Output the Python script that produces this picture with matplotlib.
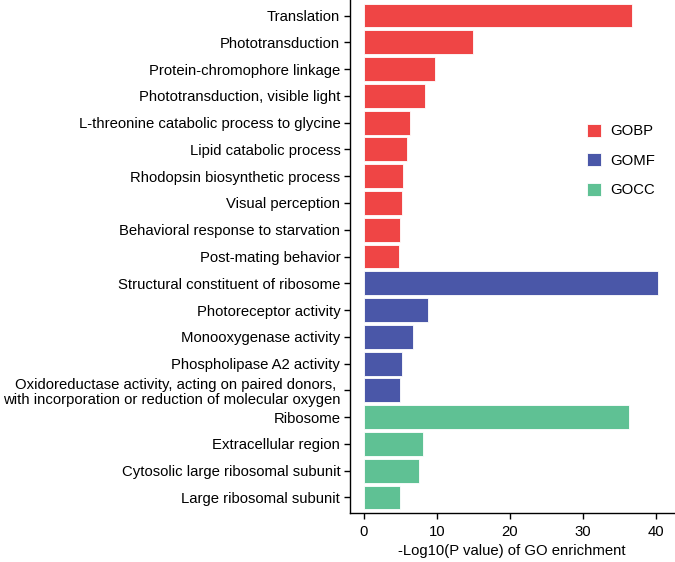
import matplotlib
matplotlib.use("Agg")
import matplotlib.pyplot as plt
from matplotlib.patches import Patch

plt.rcParams['font.family'] = ['Liberation Sans', 'DejaVu Sans']

terms = [
    "Translation",
    "Phototransduction",
    "Protein-chromophore linkage",
    "Phototransduction, visible light",
    "L-threonine catabolic process to glycine",
    "Lipid catabolic process",
    "Rhodopsin biosynthetic process",
    "Visual perception",
    "Behavioral response to starvation",
    "Post-mating behavior",
    "Structural constituent of ribosome",
    "Photoreceptor activity",
    "Monooxygenase activity",
    "Phospholipase A2 activity",
    "Oxidoreductase activity, acting on paired donors, \nwith incorporation or reduction of molecular oxygen",
    "Ribosome",
    "Extracellular region",
    "Cytosolic large ribosomal subunit",
    "Large ribosomal subunit",
]
values = [36.8, 15.0, 9.8, 8.4, 6.35, 5.85, 5.4, 5.2, 5.0, 4.8,
          40.3, 8.8, 6.7, 5.25, 4.9,
          36.4, 8.1, 7.5, 5.0]
groups = ["GOBP"] * 10 + ["GOMF"] * 5 + ["GOCC"] * 4
group_names = ["GOBP", "GOMF", "GOCC"]
xticks = [0, 10, 20, 30, 40]

colors = {"GOBP": "#EF4545", "GOMF": "#4A57A8", "GOCC": "#5FC194"}

fig = plt.figure(figsize=(6.75, 5.62), dpi=100)
ax = fig.add_axes([350 / 675, 1 - 513 / 562, 324 / 675, 513 / 562])

ypos = list(range(len(terms)))
ax.barh(ypos, values, height=0.89, color=[colors[g] for g in groups],
        edgecolor='white', linewidth=0.6)

ax.set_ylim(len(terms) - 1 + 0.58, -0.58)
ax.set_xlim(-1.9, 42.5)
ax.set_yticks(ypos)
ax.set_yticklabels(terms, fontsize=10.75, linespacing=1.1)
ax.set_xticks(xticks)
ax.set_xticklabels([str(t) for t in xticks], fontsize=10.75)
ax.set_xlabel("-Log10(P value) of GO enrichment", fontsize=10.75, labelpad=3.5)

for s in ["top", "right"]:
    ax.spines[s].set_visible(False)
for s in ["left", "bottom"]:
    ax.spines[s].set_linewidth(1.0)
ax.tick_params(axis='both', length=4, width=1, color='black', pad=3)
ax.tick_params(axis='x', pad=5)

handles = [Patch(facecolor=colors[g], edgecolor='white', linewidth=0.6, label=g)
           for g in group_names]
ax.legend(handles=handles, loc='upper left', bbox_to_anchor=(0.69, 0.785),
          frameon=False, fontsize=10.75, handlelength=0.95, handleheight=0.95,
          labelspacing=1.0, handletextpad=0.6)

fig.savefig("out.png", dpi=100)
